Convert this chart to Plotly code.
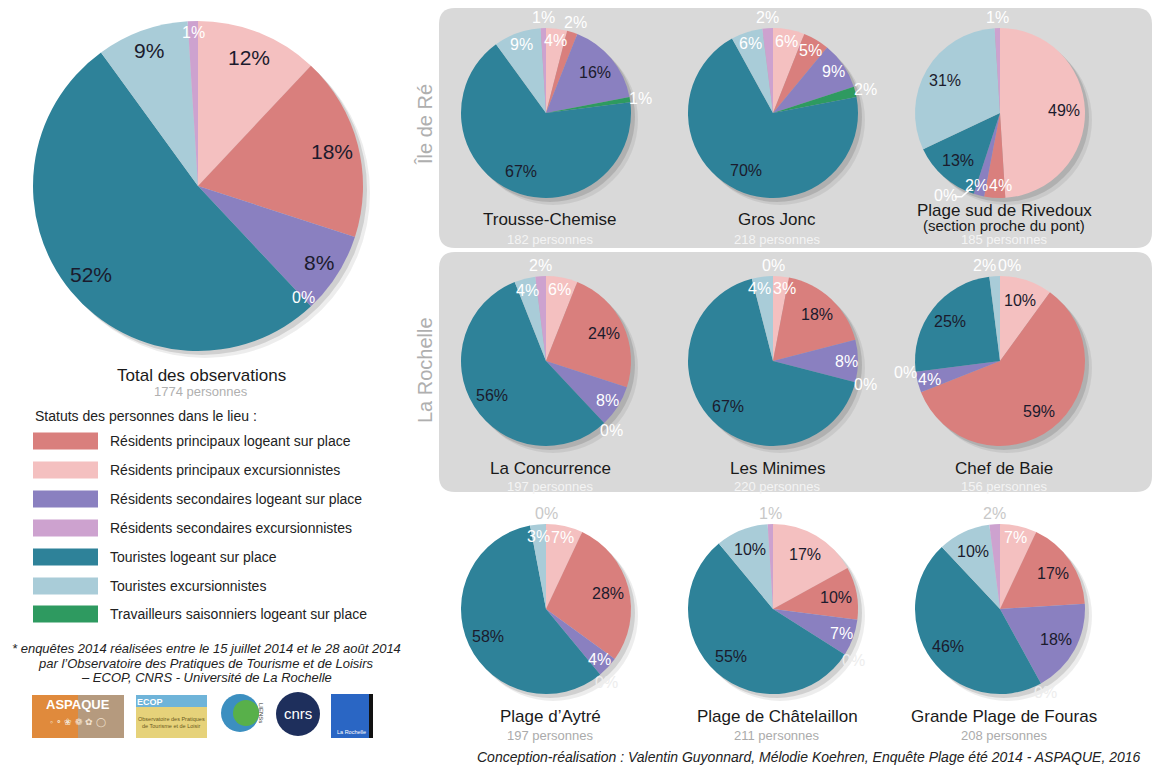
import math
import plotly.graph_objects as go

W, H = 1159, 765

# ---------------- DATA ----------------
categories = [
    "Résidents principaux excursionnistes",
    "Résidents principaux logeant sur place",
    "Résidents secondaires logeant sur place",
    "Travailleurs saisonniers logeant sur place",
    "Touristes logeant sur place",
    "Touristes excursionnistes",
    "Résidents secondaires excursionnistes",
]
total_values = [12, 18, 8, 0, 52, 9, 1]
trousse_chemise = [4, 2, 16, 1, 67, 9, 1]
gros_jonc = [6, 5, 9, 2, 70, 6, 2]
rivedoux = [49, 4, 2, 0, 13, 31, 1]
la_concurrence = [6, 24, 8, 0, 56, 4, 2]
les_minimes = [3, 18, 8, 0, 67, 4, 0]
chef_de_baie = [10, 59, 4, 0, 25, 2, 0]
aytre = [7, 28, 4, 0, 58, 3, 0]
chatelaillon = [17, 10, 7, 0, 55, 10, 1]
fouras = [7, 17, 18, 0, 46, 10, 2]

site_names = ["Trousse-Chemise", "Gros Jonc", "Plage sud de Rivedoux<br>(section proche du pont)",
              "La Concurrence", "Les Minimes", "Chef de Baie",
              "Plage d’Aytré", "Plage de Châtelaillon", "Grande Plage de Fouras"]
site_counts = [182, 218, 185, 197, 220, 156, 197, 211, 208]
site_values = [trousse_chemise, gros_jonc, rivedoux, la_concurrence, les_minimes,
               chef_de_baie, aytre, chatelaillon, fouras]
total_count = 1774

legend_order = [
    "Résidents principaux logeant sur place",
    "Résidents principaux excursionnistes",
    "Résidents secondaires logeant sur place",
    "Résidents secondaires excursionnistes",
    "Touristes logeant sur place",
    "Touristes excursionnistes",
    "Travailleurs saisonniers logeant sur place",
]

# ---------------- STYLE ----------------
colors = {
    "Résidents principaux excursionnistes": "#F4C0C0",
    "Résidents principaux logeant sur place": "#D97F7D",
    "Résidents secondaires logeant sur place": "#8A80C0",
    "Travailleurs saisonniers logeant sur place": "#2E9A60",
    "Touristes logeant sur place": "#2E8299",
    "Touristes excursionnistes": "#A9CCD8",
    "Résidents secondaires excursionnistes": "#CDA2CF",
}
slice_colors = [colors[c] for c in categories]
FONT = "Liberation Sans, Arial, sans-serif"
DARK = "#1b1b2d"

fig = go.Figure()
shapes = []
annotations = []


def P(x, y):
    return x / W, 1 - y / H


def txt(x, y, s, size=14, color="#222", anchor="center", italic=False, angle=0, bold=False):
    if italic:
        s = f"<i>{s}</i>"
    if bold:
        s = f"<b>{s}</b>"
    px, py = P(x, y)
    annotations.append(dict(x=px, y=py, xref="paper", yref="paper", text=s,
                            showarrow=False, xanchor=anchor, yanchor="middle", textangle=angle,
                            font=dict(family=FONT, size=size, color=color)))


def dom(cx, cy, r):
    return dict(x=[(cx - r) / W, (cx + r) / W], y=[1 - (cy + r) / H, 1 - (cy - r) / H])


def add_pie(vals, cx, cy, r, big=False, outside_col="white"):
    # soft shadow
    for off, a in [(7, 0.07), (4, 0.12)]:
        fig.add_trace(go.Pie(values=[1], domain=dom(cx + off, cy + off, r), sort=False,
                             marker=dict(colors=[f"rgba(0,0,0,{a})"], line=dict(width=0)),
                             textinfo="none", hoverinfo="skip", showlegend=False))
    fig.add_trace(go.Pie(
        labels=categories, values=vals, domain=dom(cx, cy, r), sort=False,
        direction="clockwise", rotation=0,
        marker=dict(colors=slice_colors, line=dict(width=0)),
        textinfo="none", showlegend=False,
        hovertemplate="%{label}: %{value}%<extra></extra>"))

    # percentage labels positioned from the data (slice mid-angles)
    tot = float(sum(vals))
    cum = 0.0
    labs = []
    for v in vals:
        th = 2 * math.pi * (cum + v / 2.0) / tot
        cum += v
        s, c = math.sin(th), math.cos(th)
        if big:
            fs = 21 if v > 2 else 16
            rho = 0.84 if v >= 10 else (0.87 if v > 2 else 0.93)
            col = DARK if v >= 5 else "white"
        else:
            fs = 16
            rho = 0.75 if v >= 10 else (0.86 if v > 2 else 1.12)
            col = DARK if v >= 10 else ("white" if v > 2 else outside_col)
        line = None
        if not big and v <= 2 and c < -0.93:
            if v > 0:
                rho = 0.88
                col = "white"
                x, y = cx + rho * r * s, cy - rho * r * c
            else:
                ex, ey = cx + r * s, cy - r * c
                sg = -1 if s < 0 else 1
                x, y = ex + sg * 28, ey + 2
                line = (ex + sg * 2, ey - 6, ex + sg * 12, ey + 3)
        else:
            x, y = cx + rho * r * s, cy - rho * r * c
        if not big and v <= 2 and c < 0 and outside_col != "white":
            col = "#EDEDED"
        w = fs * (0.556 * len(str(v)) + 0.889)
        labs.append([x, y, w, fs, f"{v}%", col, line])
    # simple horizontal de-overlap
    for _ in range(30):
        moved = False
        for i in range(len(labs)):
            for j in range(i + 1, len(labs)):
                a, b = labs[i], labs[j]
                dx = b[0] - a[0]
                dy = b[1] - a[1]
                need = (a[2] + b[2]) / 2 + 1
                if abs(dx) < need and abs(dy) < 0.85 * max(a[3], b[3]):
                    d = (need - abs(dx)) / 2 + 0.1
                    sg = 1 if dx >= 0 else -1
                    a[0] -= sg * d
                    b[0] += sg * d
                    moved = True
        if not moved:
            break
    for x, y, w, fs, s, col, line in labs:
        txt(x, y, s, fs, col)
        if line:
            x0, y0, x1, y1 = line
            shapes.append(dict(type="path", xref="paper", yref="paper",
                               path=f"M {P(x0, y0)[0]},{P(x0, y0)[1]} L {P(x1, y1)[0]},{P(x1, y1)[1]} "
                                    f"L {P(x1 + 7 * (1 if x1 > x0 else -1), y1)[0]},{P(x1, y1)[1]}",
                               line=dict(color="white", width=1.5)))


# gray panels
def rounded(x0, y0, x1, y1, rad):
    X = lambda v: v / W
    Y = lambda v: 1 - v / H
    path = (f"M {X(x0+rad)},{Y(y0)} L {X(x1-rad)},{Y(y0)} Q {X(x1)},{Y(y0)} {X(x1)},{Y(y0+rad)} "
            f"L {X(x1)},{Y(y1-rad)} Q {X(x1)},{Y(y1)} {X(x1-rad)},{Y(y1)} "
            f"L {X(x0+rad)},{Y(y1)} Q {X(x0)},{Y(y1)} {X(x0)},{Y(y1-rad)} "
            f"L {X(x0)},{Y(y0+rad)} Q {X(x0)},{Y(y0)} {X(x0+rad)},{Y(y0)} Z")
    return dict(type="path", xref="paper", yref="paper", path=path,
                fillcolor="#D9D9D9", line=dict(width=0), layer="below")


shapes.append(rounded(439, 8, 1152, 248, 16))
shapes.append(rounded(439, 252, 1152, 492, 16))

# big pie
add_pie(total_values, 198, 186, 165, big=True)
txt(201, 375, "Total des observations", 17, "#1a1a1a")
txt(201, 392, f"{total_count} personnes", 13, "#b0b0b0")

# small pies
col_x = [546, 773, 1000]
row_y = [113, 361, 609]
for k, vals in enumerate(site_values):
    i, j = divmod(k, 3)
    cx, cy = col_x[j], row_y[i]
    add_pie(vals, cx, cy, 85, outside_col=("white" if i < 2 else "#C8C8C8"))
    sub_col = "#F4F4F4" if i < 2 else "#ABABAB"
    if "<br>" in site_names[k]:
        a, b = site_names[k].split("<br>")
        txt(cx + 4, cy + 97, a, 17, "#1a1a1a")
        txt(cx + 4, cy + 112, b, 15, "#1a1a1a")
    else:
        txt(cx + 4, cy + 107, site_names[k], 17, "#1a1a1a")
    txt(cx + 4, cy + 126, f"{site_counts[k]} personnes", 13, sub_col)

# vertical group labels
txt(425, 125, "Île de Ré", 20, "#AFAFAF", angle=-90)
txt(425, 370, "La Rochelle", 20, "#AFAFAF", angle=-90)

# legend
txt(33, 416, "Statuts des personnes dans le lieu :", 14, "#222", anchor="left")
leg_y = [441, 470, 499, 528, 557, 586, 614]
for name, y in zip(legend_order, leg_y):
    shapes.append(dict(type="rect", xref="paper", yref="paper",
                       x0=33 / W, x1=98 / W, y0=1 - (y + 8.5) / H, y1=1 - (y - 8.5) / H,
                       fillcolor=colors[name], line=dict(width=0)))
    txt(108, y, name, 14, "#222", anchor="left")

# footnote
txt(206, 648, "* enquêtes 2014 réalisées entre le 15 juillet 2014 et le 28 août 2014", 13, "#222", italic=True)
txt(206, 663, "par l’Observatoire des Pratiques de Tourisme et de Loisirs", 13, "#222", italic=True)
txt(206, 677, "– ECOP, CNRS - Université de La Rochelle", 13, "#222", italic=True)


# logos (approximations)
def rect(x0, y0, x1, y1, fill):
    shapes.append(dict(type="rect", xref="paper", yref="paper", x0=x0 / W, x1=x1 / W,
                       y0=1 - y1 / H, y1=1 - y0 / H, fillcolor=fill, line=dict(width=0)))


def circ(cx, cy, r, fill):
    shapes.append(dict(type="circle", xref="paper", yref="paper", x0=(cx - r) / W, x1=(cx + r) / W,
                       y0=1 - (cy + r) / H, y1=1 - (cy - r) / H, fillcolor=fill, line=dict(width=0)))


rect(32, 695, 78, 738, "#E08A3C")
rect(78, 695, 124, 738, "#B59A7E")
txt(78, 704, "ASPAQUE", 13, "white", bold=True)
txt(78, 722, "◦ ∘ ❀ ❁ ✿ ◯", 9, "#F3E3D0")
rect(136, 695, 207, 738, "#E6D27A")
rect(136, 695, 207, 707, "#6FB4D9")
txt(150, 702, "ECOP", 9, "white", bold=True)
txt(171, 719, "Observatoire des Pratiques", 5.5, "#6B5A20")
txt(171, 726, "de Tourisme et de Loisir", 5.5, "#6B5A20")
circ(240, 713, 19, "#3C8FC0")
circ(246, 713, 13, "#58B04A")
txt(261, 713, "LIENSs", 6, "#333", angle=90)
circ(298, 714, 22, "#1E2F5C")
txt(298, 713, "cnrs", 15, "white")
rect(331, 694, 373, 738, "#2A66C4")
rect(369, 694, 373, 738, "#111")
txt(351, 732, "La Rochelle", 5.5, "white")

# credit
txt(1143, 757, "Conception-réalisation : Valentin Guyonnard, Mélodie Koehren, Enquête Plage été 2014 - ASPAQUE, 2016",
    14, "#222", anchor="right", italic=True)

fig.update_layout(width=W, height=H, margin=dict(l=0, r=0, t=0, b=0),
                  paper_bgcolor="white", plot_bgcolor="white",
                  shapes=shapes, annotations=annotations, showlegend=False,
                  font=dict(family=FONT))

fig.write_html("out.html", config={"displayModeBar": False},
               post_script="document.body.style.margin='0px';document.body.style.overflow='hidden';")
